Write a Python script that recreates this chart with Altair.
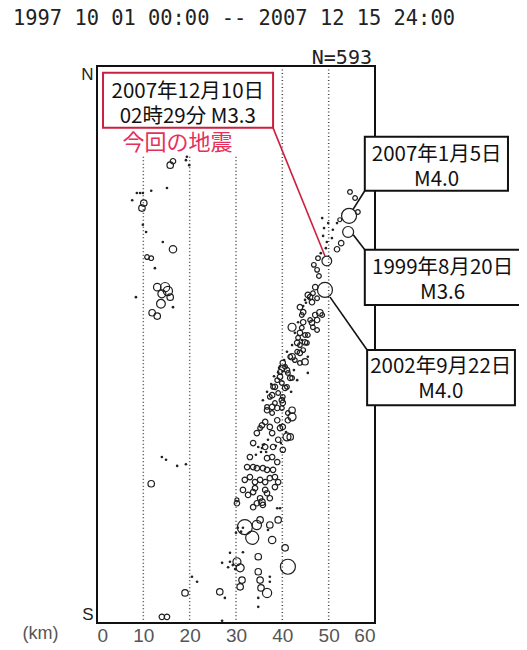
import altair as alt
import pandas as pd

# ---------------- data (depth km, N-S distance 0=N .. 100=S, magnitude) ----------------
# shallow western cluster
w_depth = [15.8, 16.4, 19.4, 19.9, 19.2, 8.6, 9.3, 9.9, 11.7, 15.1,
           7.6, 10.1, 9.7, 9.9, 10.6, 14.2, 16.4, 10.8, 11.7, 12.5,
           8.4, 13.0, 14.7, 15.3, 14.0, 15.8, 13.8, 11.9, 13.0, 16.4,
           11.7, 14.0, 14.9, 17.3, 19.2, 14.0, 15.1, 19.0, 20.5, 21.6]
w_dist = [17.8, 17.1, 16.3, 17.8, 16.9, 22.8, 22.8, 22.8, 22.4, 21.9,
          24.1, 24.6, 25.5, 28.5, 29.8, 31.6, 32.9, 34.3, 34.5, 36.3,
          41.5, 39.7, 39.7, 40.4, 40.9, 41.5, 42.7, 44.3, 44.9, 43.3,
          75.0, 70.2, 70.7, 71.8, 71.5, 98.9, 98.9, 94.6, 91.7, 92.6]
w_mag = [2.0, 1.5, 0.5, 0.5, 0.5, 0.5, 0.5, 0.5, 0.5, 0.5,
         0.5, 2.0, 2.0, 0.5, 0.5, 0.5, 2.3, 1.3, 1.3, 0.5,
         0.5, 2.3, 3.0, 3.0, 2.5, 2.0, 2.8, 2.0, 2.0, 0.5,
         2.0, 0.5, 0.5, 0.5, 0.5, 1.5, 1.5, 2.0, 0.5, 0.5]

# deep northern part of the band
n_depth = [54.6, 55.7, 56.3, 54.4, 54.2, 52.4, 51.8, 50.9, 49.9, 50.7,
           49.6, 52.7, 51.8, 49.6, 47.7, 46.8, 47.5, 47.9, 49.2, 47.1,
           46.0, 46.6, 47.5, 48.6, 49.0, 48.8, 49.4, 48.3]
n_dist = [22.6, 23.7, 26.2, 26.9, 29.8, 27.6, 28.2, 29.4, 28.2, 30.9,
          31.6, 31.8, 32.9, 35.0, 34.5, 35.7, 36.6, 37.7, 40.2, 39.7,
          41.5, 40.8, 41.7, 27.3, 29.1, 30.5, 32.7, 33.6]
n_mag = [1.3, 1.3, 1.3, 4.0, 3.6, 1.0, 0.5, 0.5, 0.5, 0.5,
         0.5, 1.5, 1.5, 3.3, 1.3, 1.3, 1.3, 1.3, 4.0, 1.5,
         1.5, 1.3, 1.3, 0.5, 0.5, 0.5, 0.5, 0.5]

# middle of the band
a_depth = [45.5, 46.4, 44.5, 44.2, 48.1, 47.5, 46.0, 42.1, 44.2, 46.6,
           47.5, 44.9, 43.4, 43.8, 45.3, 43.2, 44.5, 45.5, 41.7, 42.7,
           43.8, 44.9, 45.5, 40.6, 39.5, 41.2, 42.1, 38.9, 39.9, 38.0,
           41.0, 39.1, 37.3, 40.1, 38.4, 36.7, 39.9, 37.8, 41.2,
           44.9, 44.5, 43.4, 42.7, 42.1, 41.0, 40.4, 39.3, 38.2, 37.6,
           36.7, 35.8, 42.5, 43.2, 41.9]
a_dist = [41.1, 42.4, 44.2, 44.7, 44.3, 45.6, 45.6, 46.9, 47.0, 46.9,
          47.4, 48.3, 48.8, 50.1, 49.7, 51.3, 51.0, 52.2, 52.2, 52.8,
          53.3, 53.1, 55.1, 54.0, 54.9, 55.1, 56.0, 56.4, 56.9, 57.6,
          57.6, 58.7, 59.4, 59.4, 60.5, 61.2, 61.4, 62.3, 62.3,
          42.0, 43.1, 46.0, 47.9, 50.1, 51.3, 52.8, 54.2, 55.7, 57.1,
          58.5, 60.0, 54.6, 56.4, 58.5]
a_mag = [1.5, 1.5, 1.5, 1.3, 2.0, 1.5, 1.3, 2.5, 1.3, 1.3,
         1.3, 1.3, 1.3, 1.3, 1.3, 1.3, 1.3, 0.5, 1.3, 1.3,
         1.3, 2.0, 0.5, 1.3, 1.3, 1.3, 1.3, 1.3, 1.3, 1.3,
         1.3, 1.3, 1.3, 1.3, 1.3, 1.3, 1.3, 1.3, 1.3,
         0.5, 0.5, 0.5, 0.5, 0.5, 0.5, 0.5, 0.5, 0.5, 0.5,
         0.5, 0.5, 0.5, 0.5, 0.5]

# further events read inside the dense band
c_depth = [43.8, 47.1, 48.6, 44.5, 46.4, 43.8, 45.5, 43.2, 44.9, 43.8,
           42.1, 40.1, 41.0, 39.5, 41.7, 38.4, 40.6, 37.8, 39.9, 36.7,
           38.9, 42.1, 41.2, 35.6, 37.3, 39.5, 34.5, 41.7, 33.7, 36.3,
           37.8, 32.4, 34.5, 36.7, 31.9, 34.1, 36.3, 38.4, 31.5, 33.7,
           36.7,
           39.5, 40.1, 39.1, 40.6, 44.2, 35.6, 36.5, 36.1, 45.8, 45.1]
c_dist = [43.3, 44.7, 44.7, 46.0, 46.1, 47.9, 48.3, 49.7, 49.6, 51.5,
          52.2, 53.3, 54.6, 55.8, 56.0, 57.6, 57.8, 59.1, 60.0, 61.8,
          61.4, 61.8, 63.6, 64.5, 64.8, 65.0, 65.9, 66.6, 67.7, 68.4,
          70.2, 72.0, 72.2, 72.5, 74.3, 74.7, 74.7, 73.8, 76.1, 76.5,
          76.7,
          53.9, 54.8, 55.0, 53.9, 49.2, 68.6, 69.3, 67.9, 41.7, 42.5]
c_mag = [1.5, 1.5, 1.3, 1.5, 1.5, 1.5, 1.3, 1.5, 1.5, 1.5,
         2.0, 1.5, 1.5, 1.5, 1.5, 1.5, 1.5, 1.5, 1.5, 1.5,
         1.5, 2.0, 1.5, 1.5, 1.5, 1.5, 1.5, 2.0, 1.5, 1.5,
         1.5, 1.5, 1.5, 1.5, 1.5, 1.5, 1.5, 1.5, 1.5, 1.5,
         1.5,
         0.5, 0.5, 0.5, 0.5, 0.5, 0.5, 0.5, 0.5, 0.5, 0.5]

# lower part of the band
b_depth = [37.8, 40.1, 42.1, 36.3, 38.9, 40.1, 37.8, 35.2, 41.0, 39.1,
           38.0, 40.1, 34.8, 35.4, 34.3, 35.8, 33.0, 36.7, 38.9, 33.7,
           35.8, 38.0, 33.0, 35.2, 37.3, 39.1, 34.1, 36.3, 38.4, 32.6,
           35.2, 37.3, 33.7, 35.8, 30.2, 38.9, 39.5, 40.8, 38.6, 39.7,
           36.9]
b_dist = [61.2, 60.5, 63.0, 63.9, 63.6, 64.8, 65.9, 65.0, 66.6, 67.1,
          68.4, 68.9, 68.4, 69.3, 69.8, 68.0, 70.2, 70.4, 71.1, 72.0,
          72.2, 72.5, 73.8, 74.3, 74.0, 74.7, 75.8, 76.1, 75.6, 77.0,
          77.6, 77.6, 79.2, 78.8, 77.9, 79.4, 64.5, 65.7, 68.2, 67.7,
          67.1]
b_mag = [1.5, 1.5, 2.5, 1.5, 1.5, 1.5, 1.5, 1.3, 2.5, 1.5,
         1.5, 1.5, 0.5, 0.5, 0.5, 0.5, 1.5, 1.5, 1.5, 1.5,
         1.5, 1.5, 1.5, 1.5, 1.5, 1.5, 1.5, 1.5, 1.5, 1.5,
         1.5, 1.5, 1.5, 1.5, 1.0, 0.5, 0.5, 0.5, 0.5, 0.5,
         0.5]

# southern end
s_depth = [30.2, 34.5, 35.6, 31.9, 33.5, 34.5, 30.4, 31.1, 30.0, 31.5,
           35.2, 37.3, 39.1, 36.9, 37.8, 34.8, 40.6, 41.2, 39.5, 28.7,
           29.3, 28.3, 29.8, 30.2, 30.9, 31.3, 30.9, 34.8, 35.2, 35.4,
           37.3, 37.3, 36.7, 34.8, 34.8, 26.5, 27.6, 27.0, 27.0, 28.7,
           31.5]
s_dist = [78.5, 78.5, 78.3, 82.8, 84.7, 82.4, 82.9, 83.6, 83.8, 82.9,
          81.5, 82.4, 81.5, 83.3, 85.1, 88.1, 86.5, 89.9, 79.4, 89.0,
          89.6, 90.0, 90.3, 89.0, 90.1, 92.3, 93.5, 90.8, 92.3, 93.7,
          91.7, 92.6, 94.6, 95.5, 97.1, 94.4, 95.5, 99.6, 89.2, 87.4,
          87.3]
s_mag = [1.5, 1.5, 2.0, 4.0, 3.8, 3.0, 0.5, 0.5, 0.5, 0.5,
         2.0, 2.0, 2.0, 0.5, 2.3, 2.0, 2.0, 4.0, 0.5, 0.5,
         0.5, 0.5, 0.5, 2.5, 2.5, 2.0, 2.0, 2.0, 2.0, 2.0,
         0.5, 0.5, 3.0, 0.5, 0.5, 2.0, 0.5, 0.5, 0.5, 0.5,
         0.5]

grid_depth = [10, 20, 30, 40, 50]
grid_top = [16.3, 16.3, 16.3, 0, 0]
grid_bottom = [100, 100, 100, 100, 100]

title_text = "1997 10 01 00:00 -- 2007 12 15 24:00"
count_text = "N=593"

# annotation boxes
box_x1 = [1.3, 57.8, 57.8, 58.3]
box_x2 = [38.0, 88.7, 91.3, 90.2]
box_y1 = [1.2, 12.7, 33.0, 51.0]
box_y2 = [11.1, 22.4, 42.9, 60.9]
box_color = ["#cc1f3f", "#111111", "#111111", "#111111"]

# two-line texts; position is the centre of the first line
box_text = ["2007年12月10日\n02時29分 M3.3", "2007年1月5日\nM4.0",
            "1999年8月20日\nM3.6", "2002年9月22日\nM4.0"]
box_text_x = [19.6, 73.3, 74.6, 74.2]
box_text_y = [4.6, 16.0, 36.3, 54.0]

label_text = ["今回の地震"]
label_x = [17.4]
label_y = [13.8]

# leader lines (box corner -> event)
lead_x1 = [38.0, 57.8, 55.3, 50.3]
lead_y1 = [11.1, 22.4, 30.3, 41.5]
lead_x2 = [49.2, 55.3, 57.8, 58.3]
lead_y2 = [34.1, 25.7, 33.0, 51.0]
lead_color = ["#cc1f3f", "#111111", "#111111", "#111111"]

# ---------------- tables ----------------
quakes = pd.concat([
    pd.DataFrame({"depth": d, "dist": s, "mag": m})
    for d, s, m in [(w_depth, w_dist, w_mag), (n_depth, n_dist, n_mag),
                    (a_depth, a_dist, a_mag), (c_depth, c_dist, c_mag),
                    (b_depth, b_dist, b_mag), (s_depth, s_dist, s_mag)]
], ignore_index=True)

grid_df = pd.DataFrame({"depth": grid_depth, "top": grid_top, "bottom": grid_bottom})
frame_df = pd.DataFrame({"x1": [0], "x2": [60], "y1": [0], "y2": [100]})
box_df = pd.DataFrame({"x1": box_x1, "x2": box_x2, "y1": box_y1, "y2": box_y2, "c": box_color})
btext_df = pd.DataFrame({"x": box_text_x, "y": box_text_y, "t": box_text})
label_df = pd.DataFrame({"x": label_x, "y": label_y, "t": label_text})
lead_df = pd.DataFrame({"x1": lead_x1, "y1": lead_y1, "x2": lead_x2, "y2": lead_y2, "c": lead_color})
title_df = pd.DataFrame({"t": [title_text]})
count_df = pd.DataFrame({"t": [count_text]})

# ---------------- scales / axes ----------------
XS = alt.Scale(domain=[0, 60], nice=False, zero=False)
YS = alt.Scale(domain=[0, 100], nice=False, zero=False, reverse=True)

xaxis = alt.Axis(values=[0, 10, 20, 30, 40, 50, 60], ticks=False, tickSize=0, domain=False,
                 grid=False, labelFontSize=19, labelFont="Liberation Sans", labelColor="#555555",
                 labelPadding=3, title="(km)", titleX=-57, titleY=10, titleBaseline="middle",
                 titleAlign="center", titleFont="Liberation Sans", titleFontSize=18,
                 titleFontWeight="normal", titleColor="#555555")
yaxis = alt.Axis(values=[0, 100], labelExpr="datum.value == 0 ? 'N' : 'S'", ticks=False,
                 tickSize=0, domain=False, grid=False, labelFlush=True, labelFontSize=17,
                 labelFont="Liberation Sans", labelColor="#222222", labelPadding=4, title=None)


def X(f):
    return alt.X(f, type="quantitative", scale=XS, axis=xaxis)


def Y(f):
    return alt.Y(f, type="quantitative", scale=YS, axis=yaxis)


grid = alt.Chart(grid_df).mark_rule(color="#444444", strokeWidth=1.5, strokeDash=[1, 2.5]).encode(
    x=X("depth"), y=Y("top"), y2="bottom")

frame = alt.Chart(frame_df).mark_rect(fillOpacity=0, stroke="#111111", strokeWidth=2).encode(
    x=X("x1"), x2="x2", y=Y("y1"), y2="y2")

circles = alt.Chart(quakes).transform_filter("datum.mag >= 1").mark_point(
    shape="circle", filled=False, stroke="#1e1e1e", strokeWidth=1.2, opacity=1).encode(
    x=X("depth"), y=Y("dist"),
    size=alt.Size("mag:Q", legend=None,
                  scale=alt.Scale(domain=[0.5, 1.3, 1.5, 2.0, 2.5, 3.0, 3.3, 3.6, 4.0],
                                  range=[6, 22, 30, 42, 64, 85, 95, 120, 225])))

dots = alt.Chart(quakes).transform_filter("datum.mag < 1").mark_circle(
    size=7, color="#222222", opacity=1).encode(x=X("depth"), y=Y("dist"))

leads = alt.Chart(lead_df).mark_rule(strokeWidth=1.6).encode(
    x=X("x1"), y=Y("y1"), x2="x2", y2="y2", color=alt.Color("c:N", scale=None))

boxes = alt.Chart(box_df).mark_rect(fill="white", strokeWidth=2).encode(
    x=X("x1"), x2="x2", y=Y("y1"), y2="y2", stroke=alt.Stroke("c:N", scale=None))

btext = alt.Chart(btext_df).mark_text(font="Noto Sans CJK JP", fontSize=20.5, color="#111111",
                                      baseline="middle", align="center", lineBreak="\n",
                                      lineHeight=25).encode(
    x=X("x"), y=Y("y"), text="t:N")

label = alt.Chart(label_df).mark_text(font="Noto Sans CJK JP", fontSize=22, color="#e5305a",
                                      baseline="middle", align="center").encode(
    x=X("x"), y=Y("y"), text="t:N")

title = alt.Chart(title_df).mark_text(font="DejaVu Sans Mono", fontSize=20.4, color="#222222",
                                      align="left", baseline="alphabetic").encode(
    x=alt.value(-84), y=alt.value(-41), text="t:N")

count = alt.Chart(count_df).mark_text(font="DejaVu Sans Mono", fontSize=20, color="#222222",
                                      align="right", baseline="alphabetic").encode(
    x=alt.value(275), y=alt.value(-2), text="t:N")

chart = alt.layer(grid, circles, dots, frame, leads, boxes, btext, label, title, count).properties(
    width=278, height=557,
    autosize=alt.AutoSizeParams(type="none"),
    padding={"left": 89, "top": 58, "right": 144, "bottom": 26},
).configure_view(stroke="transparent")

chart.save("out.html", embed_options={"renderer": "svg", "actions": False})
